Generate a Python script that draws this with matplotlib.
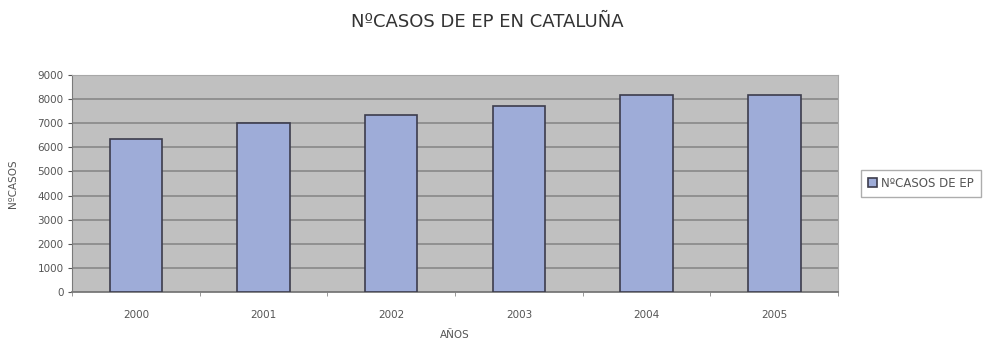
import matplotlib.pyplot as plt
from matplotlib.ticker import FixedLocator

plt.rcParams['font.family'] = ['DejaVu Sans']

years = ['2000', '2001', '2002', '2003', '2004', '2005']
casos = [6350, 7010, 7350, 7700, 8170, 8180]

fig = plt.figure(figsize=(9.95, 3.44), dpi=100)
ax = fig.add_axes([0.0724, 0.151, 0.770, 0.631])
ax.set_facecolor('#c0c0c0')

x = range(len(years))
ax.bar(x, casos, width=0.41, color='#9eacd8', edgecolor='#3c3c4c', linewidth=1.2,
       label='NºCASOS DE EP', zorder=3)

ax.set_xlim(-0.5, len(years) - 0.5)
ax.set_ylim(0, 9000)
ax.set_yticks(range(0, 9001, 1000))
ax.set_xticks(list(x))
ax.set_xticklabels(years)
# ticks between the categories, Excel style
ax.xaxis.set_minor_locator(FixedLocator([i - 0.5 for i in range(len(years) + 1)]))
ax.tick_params(axis='x', which='major', length=0, pad=13, labelsize=7.5, colors='#555555')
ax.tick_params(axis='x', which='minor', length=3, color='#888888')
ax.tick_params(axis='y', length=3, labelsize=7.5, colors='#555555', pad=3)

ax.grid(axis='y', color='#8c8c8c', linewidth=1.3, zorder=1)
for side in ['top', 'right']:
    ax.spines[side].set_color('#a8a8a8')
ax.spines['left'].set_color('#7a7a7a')
ax.spines['bottom'].set_color('#7a7a7a')
ax.spines['bottom'].set_linewidth(1.3)

ax.set_xlabel('AÑOS', fontsize=7.5, color='#555555', labelpad=7)
ax.set_ylabel('NºCASOS', fontsize=7.5, color='#555555', labelpad=14)

fig.text(0.49, 0.935, 'NºCASOS DE EP EN CATALUÑA', ha='center', va='center',
         fontsize=13, color='#333333')

leg = ax.legend(loc='center left', bbox_to_anchor=(1.022, 0.5), fontsize=8.5,
                frameon=True, fancybox=False, edgecolor='#999999',
                handlelength=0.8, handleheight=0.8, handletextpad=0.3,
                borderpad=0.6)
for t in leg.get_texts():
    t.set_color('#555555')

fig.savefig('out.png', dpi=100)
